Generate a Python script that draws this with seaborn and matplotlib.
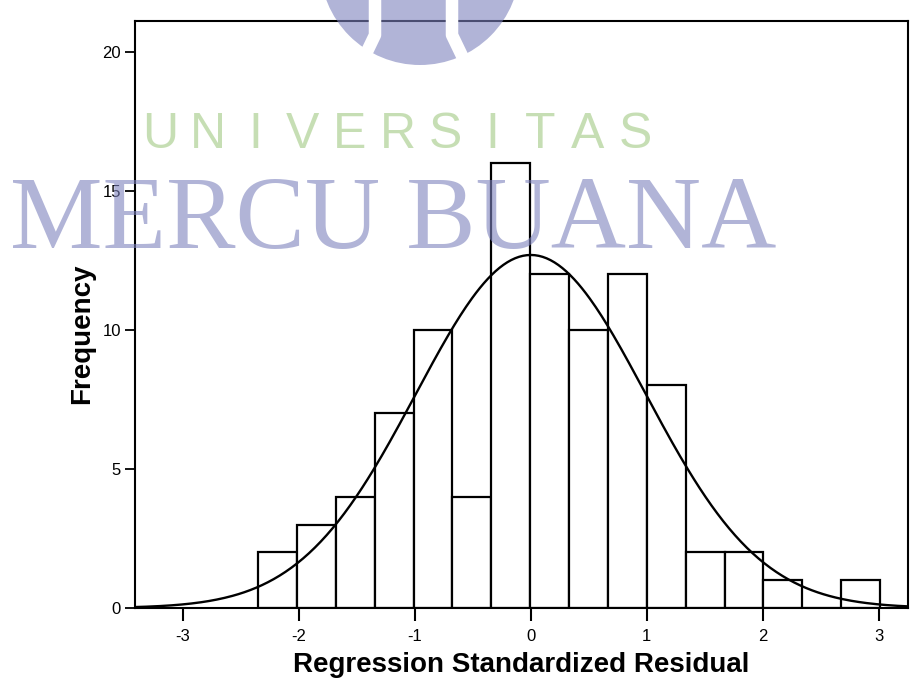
import numpy as np
import pandas as pd
import seaborn as sns
import matplotlib.pyplot as plt
from matplotlib.patches import Ellipse
from matplotlib.lines import Line2D

# histogram bins (bin width ~0.335)
bin_edges = [-2.35, -2.015, -1.68, -1.345, -1.01, -0.675, -0.34, -0.005, 0.33,
             0.665, 1.0, 1.335, 1.67, 2.005, 2.34, 2.675, 3.01]
freq = [2, 3, 4, 7, 10, 4, 16, 12, 10, 12, 8, 2, 2, 1, 0, 1]

# normal curve parameters (SPSS overlay)
resid_mean = 0.0
resid_sd = 0.99

x_ticks = [-3, -2, -1, 0, 1, 2, 3]
y_ticks = [0, 5, 10, 15, 20]

sns.set_style('ticks')
plt.rcParams['font.family'] = ['Liberation Sans', 'DejaVu Sans']
plt.rcParams['axes.unicode_minus'] = False
plt.rcParams['text.color'] = 'black'
plt.rcParams['axes.labelcolor'] = 'black'
plt.rcParams['xtick.color'] = 'black'
plt.rcParams['ytick.color'] = 'black'

W, H = 914, 698
fig = plt.figure(figsize=(W / 100, H / 100), dpi=100)
ax = fig.add_axes([135 / W, 90 / H, (908 - 135) / W, 587 / H])

centers = [(a + b) / 2 for a, b in zip(bin_edges[:-1], bin_edges[1:])]
df = pd.DataFrame({'resid': centers, 'n': freq})

sns.histplot(data=df, x='resid', weights='n', bins=bin_edges, color='white',
             edgecolor='black', linewidth=1.6, alpha=1, ax=ax)

# fitted normal curve, scaled to counts
n_total = sum(freq)
bw = bin_edges[1] - bin_edges[0]
xs = np.linspace(-3.45, 3.3, 400)
ys = n_total * bw * np.exp(-0.5 * ((xs - resid_mean) / resid_sd) ** 2) / (resid_sd * np.sqrt(2 * np.pi))
sns.lineplot(x=xs, y=ys, color='black', linewidth=1.7, ax=ax)

ax.set_xlim(-3.41, 3.25)
ax.set_ylim(0, 21.1)
ax.set_xticks(x_ticks)
ax.set_yticks(y_ticks)
for s in ax.spines.values():
    s.set_visible(True)
    s.set_linewidth(1.5)
    s.set_color('black')
ax.tick_params(axis='x', length=9, width=1.5, pad=6, labelsize=12, labelcolor='black')
ax.tick_params(axis='y', length=7, width=1.3, pad=3, labelsize=12, labelcolor='black')
ax.set_xlabel('Regression Standardized Residual', fontsize=20, fontweight='bold',
              labelpad=6, color='black')
ax.set_ylabel('Frequency', fontsize=20, fontweight='bold', color='black')
ax.yaxis.set_label_coords(-0.051, 0.468)


# watermark (drawn over the chart like in the scan)
def fx(px):
    return px / W


def fy(py):
    return 1 - py / H


lav = '#7d82bd'
fig.add_artist(Ellipse((fx(420), fy(-35)), 200 / W, 200 / H, facecolor=lav,
                       edgecolor='none', alpha=0.6, transform=fig.transFigure, zorder=5))
for xx in ([375, 375, 362], [452, 452, 465]):
    fig.add_artist(Line2D([fx(v) for v in xx], [fy(0), fy(35), fy(62)], color='white',
                          linewidth=9, solid_capstyle='butt', transform=fig.transFigure, zorder=6))

for i, ch in enumerate('UNIVERSITAS'):
    fig.text(fx(160 + i * 47.5), fy(148), ch, fontsize=36, color='#8fbf6a', alpha=0.5,
             ha='center', va='baseline', family='Liberation Sans', zorder=5)
fig.text(fx(10), fy(248), 'MERCU BUANA', fontsize=75, color=lav, alpha=0.6,
         ha='left', va='baseline', family='Liberation Serif', zorder=5)

fig.savefig('out.png', dpi=100)
